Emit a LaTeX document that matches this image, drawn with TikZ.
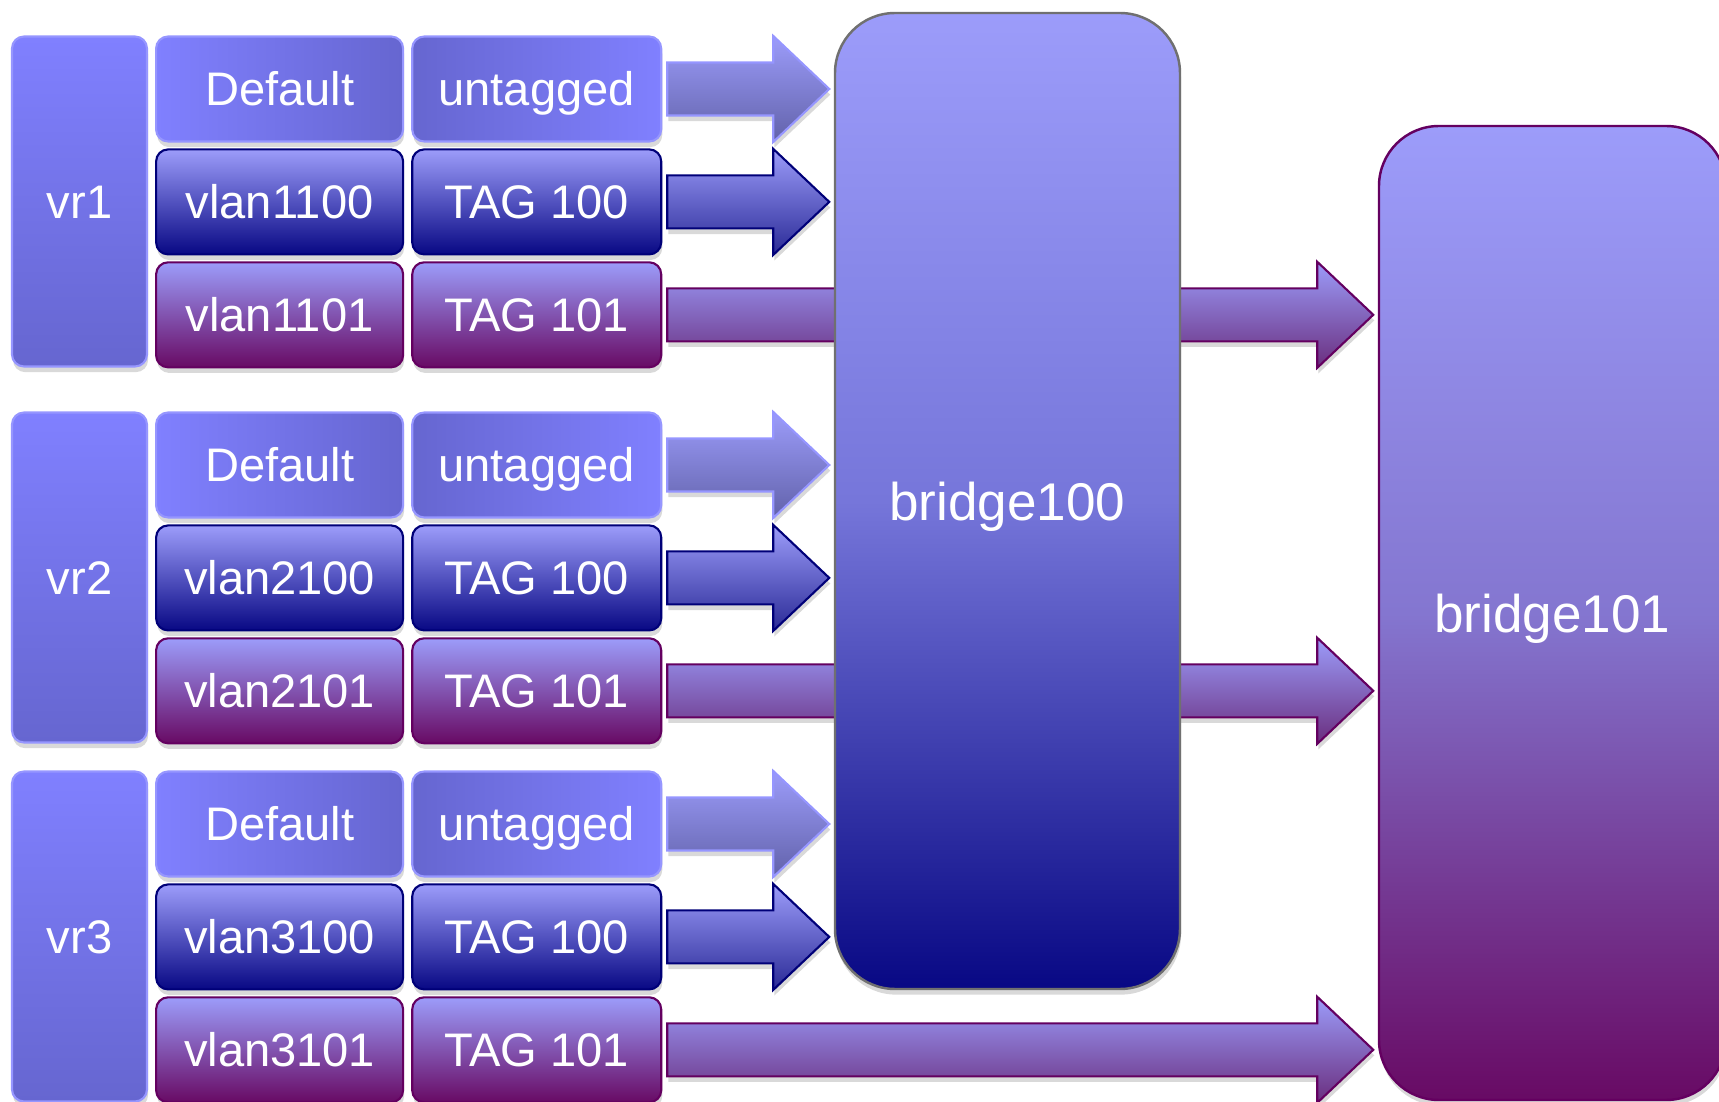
\documentclass[tikz,border=0pt]{standalone}
\usepackage{fontspec}
\setmainfont{Liberation Sans}
\usetikzlibrary{positioning,calc,shadows,backgrounds}

\definecolor{lilac}{RGB}{128,128,255}
\definecolor{lilacdark}{RGB}{102,102,208}
\definecolor{lilacpale}{RGB}{156,156,250}
\definecolor{lilacedge}{RGB}{150,150,255}
\definecolor{navy}{RGB}{8,8,132}
\definecolor{navyline}{RGB}{0,0,120}
\definecolor{navyarrow}{RGB}{42,42,150}
\definecolor{plum}{RGB}{104,10,100}
\definecolor{plumline}{RGB}{100,0,96}
\definecolor{plumarrow}{RGB}{106,46,126}
\definecolor{greyarrow}{RGB}{98,98,170}
\definecolor{edgegrey}{RGB}{112,112,112}
\definecolor{midblue}{RGB}{118,118,218}
\definecolor{midplum}{RGB}{132,118,208}

\tikzset{
  shade/.style={drop shadow={shadow xshift=0.3pt, shadow yshift=-1.6pt, opacity=0.3, fill=black!50}},
  portbox/.style={rectangle, rounded corners=0.12cm, inner sep=0pt, text=white,
    font=\fontsize{13.4}{16}\selectfont, text height=0.34cm, text depth=0pt,
    minimum height=1.05cm, line width=0.6pt, shade},
  vrbox/.style={portbox, minimum width=1.35cm, minimum height=3.30cm,
    top color=lilac, bottom color=lilacdark, draw=lilacedge},
  col1/.style={minimum width=2.47cm},
  col2/.style={minimum width=2.49cm},
  defaultfill/.style={left color=lilac, right color=lilacdark, draw=lilacedge},
  untaggedfill/.style={left color=lilacdark, right color=lilac, draw=lilacedge},
  navyfill/.style={top color=lilacpale, bottom color=navy, draw=navyline},
  plumfill/.style={top color=lilacpale, bottom color=plum, draw=plumline},
  bridgebox/.style={rectangle, rounded corners=0.6cm, inner sep=0pt, text=white,
    font=\fontsize{15.1}{18}\selectfont, text height=0.39cm, text depth=0pt,
    line width=0.7pt, shade},
  untaggedarrow/.style={top color=lilacpale, bottom color=greyarrow, draw=lilacedge, line width=0.6pt, shade},
  navyarrowfill/.style={top color=lilacpale, bottom color=navyarrow, draw=navyline, line width=0.6pt, shade},
  plumarrowfill/.style={top color=lilacpale, bottom color=plumarrow, draw=plumline, line width=0.6pt, shade},
}

% block arrow from the east side of #2 to the west side of #3
\newcommand{\linkarrow}[3]{%
  \coordinate (s) at ($(#2.east)+(0.05,0)$);
  \coordinate (t0) at (s -| #3.west);
  \coordinate (t) at ($(t0)+(-0.045,0)$);
  \draw[#1] ($(s)+(0,0.265)$) -- ($(t)+(-0.56,0.265)$) -- ($(t)+(-0.56,0.53)$) -- (t)
    -- ($(t)+(-0.56,-0.53)$) -- ($(t)+(-0.56,-0.265)$) -- ($(s)+(0,-0.265)$) -- cycle;
}

\begin{document}
\begin{tikzpicture}

    \clip (0,0) rectangle (17.19,11.02);

    %% Bridges
    \node[bridgebox, minimum width=3.45cm, minimum height=9.76cm,
      top color=lilacpale, bottom color=navy, middle color=midblue, draw=edgegrey]
      (bridge100) at (10.075,6.01) {bridge100};
    \node[bridgebox, minimum width=3.47cm, minimum height=9.74cm,
      top color=lilacpale, bottom color=plum, middle color=midplum, draw=plumline]
      (bridge101) at (15.525,4.89) {bridge101};

    %% vr1
    \node[vrbox] (vr1) at (0.795,9.005) {vr1};
    \node[portbox, col1, defaultfill, right=0.07cm of vr1.north east, anchor=north west] (def1) {Default};
    \node[portbox, col2, untaggedfill, right=0.07cm of def1] (untag1) {untagged};
    \node[portbox, col1, navyfill, below=0.058cm of def1] (vlan1100) {vlan1100};
    \node[portbox, col2, navyfill, right=0.07cm of vlan1100] (tag1100) {TAG 100};
    \node[portbox, col1, plumfill, below=0.058cm of vlan1100] (vlan1101) {vlan1101};
    \node[portbox, col2, plumfill, right=0.07cm of vlan1101] (tag1101) {TAG 101};

    %% vr2
    \node[vrbox] (vr2) at (0.795,5.245) {vr2};
    \node[portbox, col1, defaultfill, right=0.07cm of vr2.north east, anchor=north west] (def2) {Default};
    \node[portbox, col2, untaggedfill, right=0.07cm of def2] (untag2) {untagged};
    \node[portbox, col1, navyfill, below=0.058cm of def2] (vlan2100) {vlan2100};
    \node[portbox, col2, navyfill, right=0.07cm of vlan2100] (tag2100) {TAG 100};
    \node[portbox, col1, plumfill, below=0.058cm of vlan2100] (vlan2101) {vlan2101};
    \node[portbox, col2, plumfill, right=0.07cm of vlan2101] (tag2101) {TAG 101};

    %% vr3
    \node[vrbox] (vr3) at (0.795,1.655) {vr3};
    \node[portbox, col1, defaultfill, right=0.07cm of vr3.north east, anchor=north west] (def3) {Default};
    \node[portbox, col2, untaggedfill, right=0.07cm of def3] (untag3) {untagged};
    \node[portbox, col1, navyfill, below=0.058cm of def3] (vlan3100) {vlan3100};
    \node[portbox, col2, navyfill, right=0.07cm of vlan3100] (tag3100) {TAG 100};
    \node[portbox, col1, plumfill, below=0.058cm of vlan3100] (vlan3101) {vlan3101};
    \node[portbox, col2, plumfill, right=0.07cm of vlan3101] (tag3101) {TAG 101};

    %% Links (behind the bridges)
    \begin{scope}[on background layer]
      \linkarrow{untaggedarrow}{untag1}{bridge100}
      \linkarrow{navyarrowfill}{tag1100}{bridge100}
      \linkarrow{plumarrowfill}{tag1101}{bridge101}
      \linkarrow{untaggedarrow}{untag2}{bridge100}
      \linkarrow{navyarrowfill}{tag2100}{bridge100}
      \linkarrow{plumarrowfill}{tag2101}{bridge101}
      \linkarrow{untaggedarrow}{untag3}{bridge100}
      \linkarrow{navyarrowfill}{tag3100}{bridge100}
      \linkarrow{plumarrowfill}{tag3101}{bridge101}
    \end{scope}

\end{tikzpicture}
\end{document}
